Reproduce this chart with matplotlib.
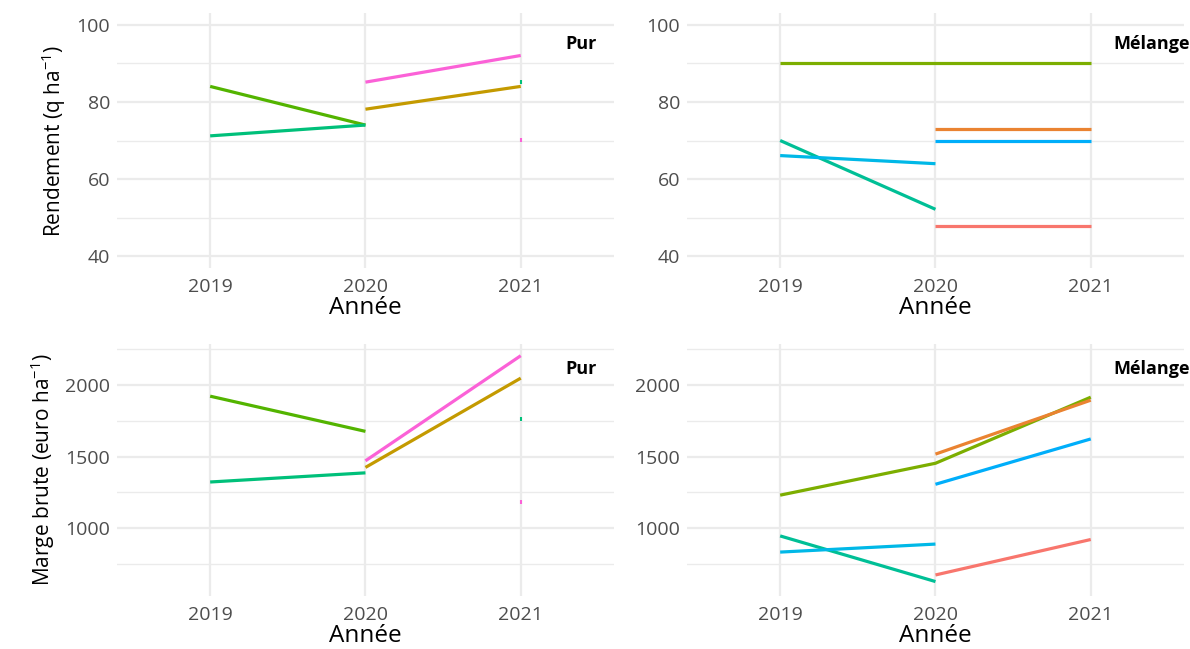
import matplotlib
matplotlib.use("Agg")
import matplotlib.pyplot as plt
from matplotlib.ticker import FixedLocator

plt.rcParams['font.family'] = ['Open Sans', 'DejaVu Sans']
plt.rcParams['mathtext.fontset'] = 'custom'
plt.rcParams['mathtext.rm'] = 'Open Sans'
plt.rcParams['mathtext.it'] = 'Open Sans:italic'

# années
an_19_20 = [2019, 2020]
an_20_21 = [2020, 2021]
an_19_21 = [2019, 2020, 2021]
an_21 = [2021]

# couleurs des séries
couleurs = {
    'lime': '#53B400',
    'vert': '#00C07A',
    'rose': '#FB61D7',
    'or': '#C49A00',
    'olive': '#7CAE00',
    'teal': '#00BF96',
    'bleu_clair': '#00B8E7',
    'orange': '#EA8331',
    'bleu': '#00AEFA',
    'saumon': '#F8766D',
}

# Pur - rendement (q/ha)
pur_rdt = [
    ('lime', an_19_20, [84, 74]),
    ('vert', an_19_20, [71.2, 74]),
    ('rose', an_20_21, [85.1, 92]),
    ('or', an_20_21, [78.1, 84]),
    ('vert', an_21, [85.1]),
    ('rose', an_21, [70.1]),
]
# Mélange - rendement
mel_rdt = [
    ('olive', an_19_21, [90, 90, 90]),
    ('teal', an_19_20, [70, 52.2]),
    ('bleu_clair', an_19_20, [66.1, 64]),
    ('orange', an_20_21, [73, 73]),
    ('bleu', an_20_21, [70, 70]),
    ('saumon', an_20_21, [48, 48]),
]
# Pur - marge brute (euro/ha)
pur_mb = [
    ('lime', an_19_20, [1922, 1676]),
    ('vert', an_19_20, [1322, 1386]),
    ('rose', an_20_21, [1470, 2205]),
    ('or', an_20_21, [1424, 2048]),
    ('vert', an_21, [1759]),
    ('rose', an_21, [1179]),
]
# Mélange - marge brute
mel_mb = [
    ('olive', an_19_21, [1230, 1453, 1915]),
    ('orange', an_20_21, [1517, 1894]),
    ('bleu', an_20_21, [1306, 1623]),
    ('teal', an_19_20, [945, 626]),
    ('bleu_clair', an_19_20, [832, 888]),
    ('saumon', an_20_21, [672, 920]),
]

fig = plt.figure(figsize=(11.9, 6.49), dpi=100)
w = 0.4176
pos = {
    'tl': [0.0983, 0.587, w, 0.393],
    'tr': [0.5773, 0.587, w, 0.393],
    'bl': [0.0983, 0.081, w, 0.389],
    'br': [0.5773, 0.081, w, 0.389],
}

def panneau(key, series, ylim, major, minor, titre, ytxt, ylabel=None):
    ax = fig.add_axes(pos[key])
    for s in ax.spines.values():
        s.set_visible(False)
    ax.set_xlim(2018.4, 2021.6)
    ax.set_ylim(*ylim)
    ax.xaxis.set_major_locator(FixedLocator([2019, 2020, 2021]))
    ax.yaxis.set_major_locator(FixedLocator(major))
    ax.yaxis.set_minor_locator(FixedLocator(minor))
    ax.grid(which='major', color='#EBEBEB', lw=1.6, zorder=0)
    ax.grid(which='minor', axis='y', color='#EBEBEB', lw=1.0, zorder=0)
    ax.tick_params(which='both', length=0, labelsize=14, labelcolor='#4D4D4D')
    ax.tick_params(axis='x', pad=7)
    ax.tick_params(axis='y', pad=5)
    for nom, x, y in series:
        if len(x) == 1:
            ax.plot(x, y, marker='|', ms=3, mew=1.5, color=couleurs[nom], ls='none', zorder=3)
        else:
            ax.plot(x, y, color=couleurs[nom], lw=2.3, solid_capstyle='butt', zorder=3)
    ax.text(2021.39, ytxt, titre, fontsize=13, fontweight='bold', ha='center', va='center', clip_on=False)
    ax.set_xlabel('Année', fontsize=17.5, labelpad=0)
    if ylabel:
        ax.set_ylabel(ylabel, fontsize=15, labelpad=6)
    return ax

panneau('tl', pur_rdt, (37, 103), [40, 60, 80, 100], [50, 70, 90], 'Pur', 95,
        r'Rendement (q ha$^{-1}$)')
panneau('tr', mel_rdt, (37, 103), [40, 60, 80, 100], [50, 70, 90], 'Mélange', 95)
panneau('bl', pur_mb, (522, 2287), [1000, 1500, 2000], [750, 1250, 1750, 2250], 'Pur', 2110,
        r'Marge brute (euro ha$^{-1}$)')
panneau('br', mel_mb, (522, 2287), [1000, 1500, 2000], [750, 1250, 1750, 2250], 'Mélange', 2110)

fig.savefig('out.png', dpi=100, facecolor='white')
